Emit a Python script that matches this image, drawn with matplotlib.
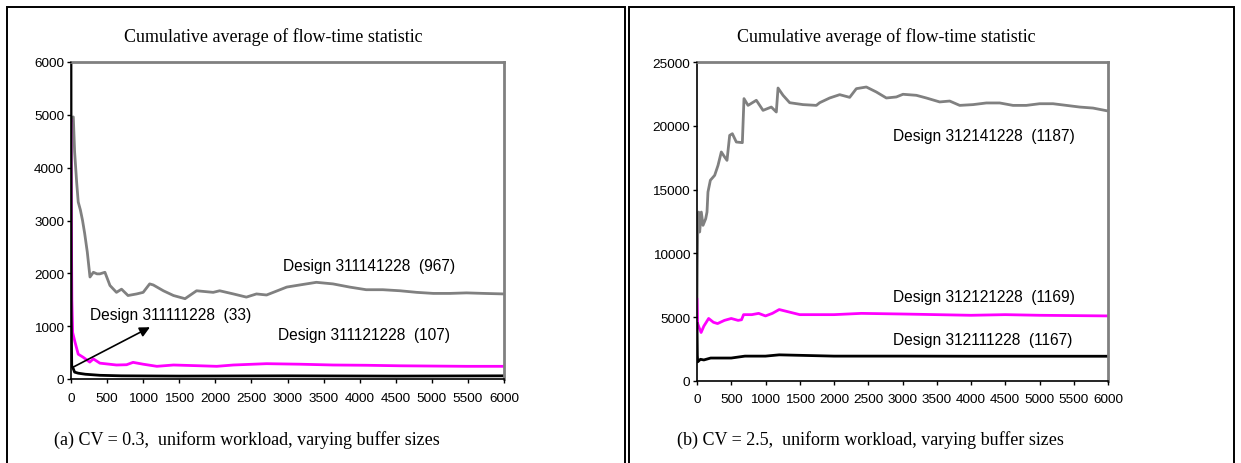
import matplotlib
matplotlib.use("Agg")
import matplotlib.pyplot as plt
from matplotlib.patches import Rectangle
from matplotlib.ticker import MultipleLocator

# ---- (a) CV = 0.3 ----
a_x_967 = [0, 10, 32, 50, 78, 100, 130, 160, 190, 226, 263, 310, 360, 400, 470, 540, 630, 700, 790,
           910, 1000, 1090, 1140, 1280, 1420, 1580, 1740, 1970, 2060, 2250, 2430, 2570, 2710, 2990,
           3170, 3400, 3630, 3860, 4090, 4320, 4560, 4790, 5020, 5250, 5480, 5720, 6000]
a_y_967 = [4900, 4950, 4960, 4300, 3730, 3350, 3200, 3000, 2750, 2400, 1930, 2020, 1990, 1990, 2020,
           1770, 1640, 1700, 1580, 1610, 1640, 1800, 1780, 1670, 1580, 1520, 1670, 1640, 1670, 1610,
           1550, 1610, 1590, 1740, 1780, 1830, 1800, 1740, 1690, 1690, 1670, 1640, 1620, 1620, 1630,
           1620, 1610]

a_x_107 = [0, 5, 12, 23, 55, 100, 170, 260, 310, 400, 630, 770, 860, 1000, 1190, 1420, 1790, 2020,
           2250, 2710, 3170, 3630, 4090, 4560, 5020, 5480, 6000]
a_y_107 = [4900, 3000, 1500, 880, 700, 470, 410, 320, 380, 300, 265, 270, 315, 280, 240, 265, 250,
           240, 265, 290, 280, 265, 260, 250, 245, 240, 240]

a_x_33 = [0, 3, 10, 30, 50, 100, 200, 400, 700, 1500, 3000, 4500, 6000]
a_y_33 = [6000, 1200, 250, 200, 130, 110, 90, 70, 60, 55, 60, 55, 60]

# ---- (b) CV = 2.5 ----
b_x_1187 = [0, 5, 10, 15, 24, 39, 63, 88, 127, 146, 160, 195, 258, 307, 355, 404, 438, 477, 516, 574,
            662, 686, 745, 866, 964, 1085, 1158, 1183, 1256, 1353, 1548, 1742, 1791, 1937, 2083,
            2229, 2326, 2472, 2618, 2764, 2910, 3007, 3202, 3348, 3543, 3689, 3835, 4029, 4224,
            4419, 4613, 4808, 5002, 5197, 5392, 5586, 5781, 6000]
b_y_1187 = [5000, 9000, 11500, 11680, 13240, 11680, 13240, 12200, 12720, 13240, 14810, 15730, 16120,
            16900, 17950, 17550, 17290, 19250, 19380, 18730, 18680, 22130, 21600, 22000, 21210,
            21470, 21080, 22960, 22390, 21810, 21660, 21600, 21810, 22180, 22440, 22230, 22910,
            23040, 22650, 22180, 22260, 22470, 22390, 22180, 21870, 21940, 21600, 21660, 21790,
            21790, 21600, 21600, 21730, 21730, 21600, 21470, 21390, 21160]

b_x_1169 = [0, 10, 30, 60, 100, 170, 240, 300, 400, 500, 600, 650, 680, 800, 900, 1000, 1100, 1200,
            1350, 1500, 2000, 2400, 3000, 3500, 4000, 4500, 5000, 6000]
b_y_1169 = [6400, 4500, 4200, 3800, 4300, 4900, 4600, 4500, 4750, 4900, 4750, 4800, 5200, 5200, 5300,
            5100, 5300, 5600, 5400, 5200, 5200, 5300, 5250, 5200, 5150, 5200, 5150, 5100]

b_x_1167 = [0, 5, 10, 50, 100, 200, 500, 700, 1000, 1200, 2000, 3000, 4000, 5000, 6000]
b_y_1167 = [4500, 2000, 1500, 1700, 1650, 1800, 1800, 1950, 1950, 2050, 1950, 1950, 1940, 1940, 1940]

x_ticks = list(range(0, 6001, 500))

GRAY = "#808080"
MAGENTA = "#FF00FF"
W, H = 1241, 464
LABEL_SIZE = 11.2

plt.rcParams["font.family"] = ["Liberation Sans", "DejaVu Sans"]
fig = plt.figure(figsize=(W / 100, H / 100), dpi=100)


def px_axes(x0, y0, x1, y1):
    return fig.add_axes([x0 / W, 1 - y1 / H, (x1 - x0) / W, (y1 - y0) / H])


def style(ax, ymax, ystep):
    ax.set_xlim(0, 6000)
    ax.set_ylim(0, ymax)
    ax.set_xticks(x_ticks)
    ax.yaxis.set_major_locator(MultipleLocator(ystep))
    for s in ("top", "right"):
        ax.spines[s].set_color(GRAY)
        ax.spines[s].set_linewidth(2)
    for s in ("left", "bottom"):
        ax.spines[s].set_color("black")
        ax.spines[s].set_linewidth(1.2)
    ax.tick_params(direction="out", length=3, width=1, labelsize=9.7)
    ax.tick_params(axis="x", pad=6)
    ax.tick_params(axis="y", pad=2)
    ax.set_axisbelow(False)


serif = ["Liberation Serif", "DejaVu Serif"]

# outer frames
fig.patches.append(Rectangle((7 / W, -0.05), (625 - 7) / W, 1.05 - 8 / H, transform=fig.transFigure,
                             fill=False, edgecolor="black", linewidth=1.4))
fig.patches.append(Rectangle((629 / W, -0.05), (1234 - 629) / W, 1.05 - 8 / H, transform=fig.transFigure,
                             fill=False, edgecolor="black", linewidth=1.4))

# panel (a)
ax1 = px_axes(71, 63, 504, 380)
ax1.plot(a_x_967, a_y_967, color=GRAY, lw=2)
ax1.plot(a_x_107, a_y_107, color=MAGENTA, lw=2)
ax1.plot(a_x_33, a_y_33, color="black", lw=2)
style(ax1, 6000, 1000)
ax1.text(2931, 2150, "Design 311141228  (967)", fontsize=LABEL_SIZE, ha="left", va="center")
ax1.text(2862, 834, "Design 311121228  (107)", fontsize=LABEL_SIZE, ha="left", va="center")
ax1.text(263, 1230, "Design 311111228  (33)", fontsize=LABEL_SIZE, ha="left", va="center")
ax1.annotate("", xy=(1094, 980), xytext=(23, 220),
             arrowprops=dict(arrowstyle="-|>", color="black", lw=1.2, mutation_scale=15,
                             shrinkA=0, shrinkB=0))
fig.text(273 / W, 1 - 37 / H, "Cumulative average of flow-time statistic", family=serif,
         fontsize=13, ha="center", va="center")
fig.text(54 / W, 1 - 440 / H, "(a) CV = 0.3,  uniform workload, varying buffer sizes", family=serif,
         fontsize=13, ha="left", va="center")

# panel (b)
ax2 = px_axes(697, 63, 1108, 382)
ax2.plot(b_x_1187, b_y_1187, color=GRAY, lw=2)
ax2.plot(b_x_1169, b_y_1169, color=MAGENTA, lw=2)
ax2.plot(b_x_1167, b_y_1167, color="black", lw=2)
style(ax2, 25000, 5000)
ax2.text(2861, 19250, "Design 312141228  (1187)", fontsize=LABEL_SIZE, ha="left", va="center")
ax2.text(2861, 6660, "Design 312121228  (1169)", fontsize=LABEL_SIZE, ha="left", va="center")
ax2.text(2861, 3265, "Design 312111228  (1167)", fontsize=LABEL_SIZE, ha="left", va="center")
fig.text(886 / W, 1 - 37 / H, "Cumulative average of flow-time statistic", family=serif,
         fontsize=13, ha="center", va="center")
fig.text(677 / W, 1 - 440 / H, "(b) CV = 2.5,  uniform workload, varying buffer sizes", family=serif,
         fontsize=13, ha="left", va="center")

fig.savefig("out.png", dpi=100)
